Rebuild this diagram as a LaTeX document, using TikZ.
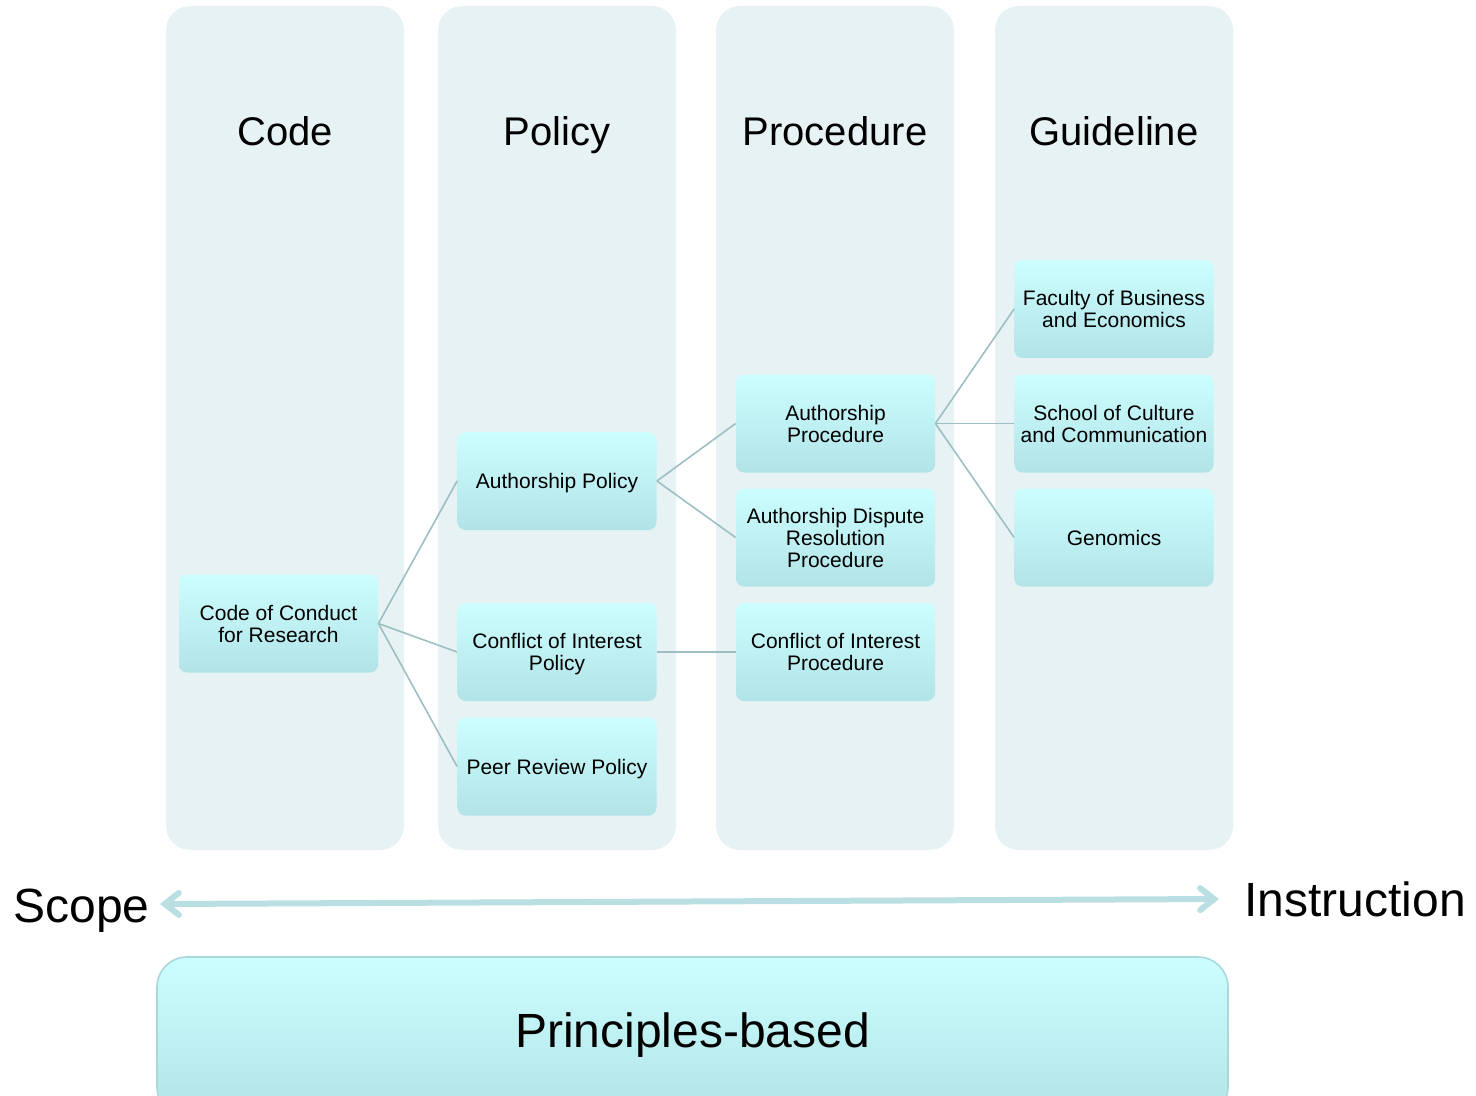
\documentclass[tikz,border=0pt]{standalone}
\usepackage{fontspec}
\setmainfont{Liberation Sans}
\usetikzlibrary{arrows.meta}
\definecolor{colfill}{HTML}{E6F2F4}
\definecolor{boxtop}{HTML}{CCFEFF}
\definecolor{boxbot}{HTML}{B2E3E7}
\definecolor{linkc}{HTML}{9DBFC3}
\definecolor{arrowc}{HTML}{BADFE2}
\definecolor{bigedge}{HTML}{A8D8DC}
\begin{document}
\begin{tikzpicture}[x=0.5pt,y=-0.5pt,
  column/.style={fill=colfill,rounded corners=12pt},
  coltitle/.style={font=\fontsize{20}{24}\selectfont,anchor=base,inner sep=0pt},
  item/.style={top color=boxtop,bottom color=boxbot,rounded corners=4pt,
    minimum width=99.5pt,minimum height=49pt,align=center,inner sep=1pt,
    text depth=0pt,font=\fontsize{10.5}{11}\selectfont},
  link/.style={draw=linkc,line width=0.8pt},
  bigtext/.style={font=\fontsize{24}{28}\selectfont}]
\useasboundingbox (0,0) rectangle (1476,1096);
% columns
\fill[column] (166,6) rectangle (404,850);
\fill[column] (438,6) rectangle (676,850);
\fill[column] (716,6) rectangle (954,850);
\fill[column] (995,6) rectangle (1233,850);
\node[coltitle] (tcode) at (285,146) {Code};
\node[coltitle] (tpol) at (557,146) {Policy};
\node[coltitle] (tproc) at (835,146) {Procedure};
\node[coltitle] (tguide) at (1114,146) {Guideline};
% items
\node[item] (ccr) at (278.5,623.5) {Code of Conduct\\for Research};
\node[item] (ap) at (557,481) {Authorship Policy};
\node[item] (cip) at (557,652) {Conflict of Interest\\Policy};
\node[item] (prp) at (557,766.5) {Peer Review Policy};
\node[item] (apr) at (835.5,423.5) {Authorship\\Procedure};
\node[item] (adr) at (835.5,537.5) {Authorship Dispute\\Resolution\\Procedure};
\node[item] (cipr) at (835.5,652) {Conflict of Interest\\Procedure};
\node[item] (fbe) at (1114,309) {Faculty of Business\\and Economics};
\node[item] (scc) at (1114,423.5) {School of Culture\\and Communication};
\node[item] (gen) at (1114,537.5) {Genomics};
% links
\draw[link] (ccr.east) -- (ap.west);
\draw[link] (ccr.east) -- (cip.west);
\draw[link] (ccr.east) -- (prp.west);
\draw[link] (ap.east) -- (apr.west);
\draw[link] (ap.east) -- (adr.west);
\draw[link] (cip.east) -- (cipr.west);
\draw[link] (apr.east) -- (fbe.west);
\draw[link] (apr.east) -- (scc.west);
\draw[link] (apr.east) -- (gen.west);
% scope arrow
\node[bigtext,anchor=base west,inner sep=0pt] (scope) at (13,922) {Scope};
\node[bigtext,anchor=base west,inner sep=0pt] (instr) at (1244,916) {Instruction};
\coordinate (al) at (160,904);
\coordinate (ar) at (1219,899);
\draw[arrowc,line width=3pt,line cap=round,
  {Straight Barb[length=7pt,width=11pt,line cap=round]}-{Straight Barb[length=7pt,width=11pt,line cap=round]}]
  (al) -- (ar);
% principles box
\node[draw=bigedge,line width=0.8pt,top color=boxtop,bottom color=boxbot,
  rounded corners=15pt,minimum width=535.5pt,minimum height=80pt,
  bigtext] (pb) at (692.5,1037) {};
\node[bigtext,anchor=base,inner sep=0pt] (pbt) at (692.5,1047) {Principles-based};
\end{tikzpicture}
\end{document}
